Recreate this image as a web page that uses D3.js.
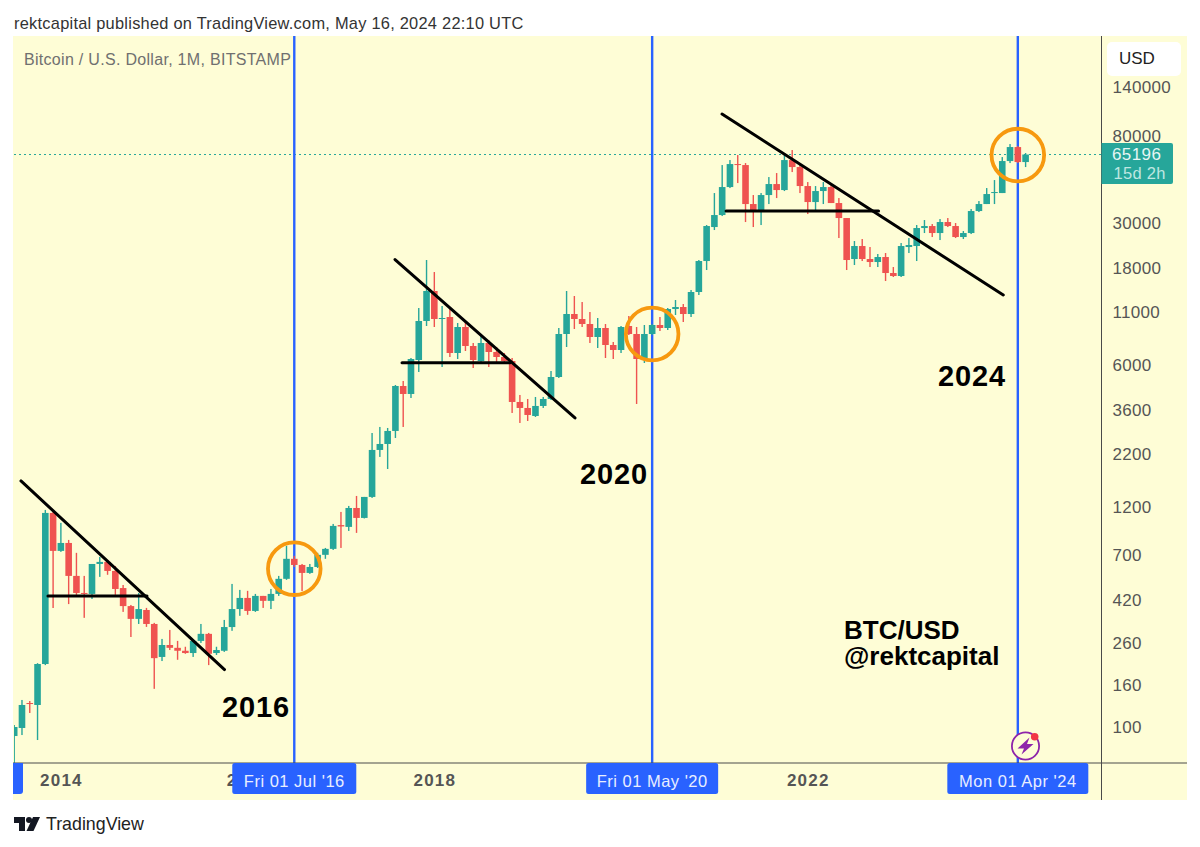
<!DOCTYPE html>
<html lang="en">
<head>
<meta charset="utf-8">
<title>BTC/USD monthly halving chart</title>
<script src="https://cdnjs.cloudflare.com/ajax/libs/d3/7.8.5/d3.min.js"></script>
<style>
  html, body { margin: 0; padding: 0; background: #fff; }
  svg { display: block; }
  text { font-family: "Liberation Sans", Arial, sans-serif; }
</style>
</head>
<body>
<svg id="chart" width="1200" height="847"></svg>
<script>
// monthly candles from Jul 2013, index 0 = Jul 2013
const opens = [
  90.3, 98.9, 131.2, 128.3, 204, 1128,
  734, 803, 553, 456, 451, 633, 648, 585, 482, 393, 340, 376,
  321, 221, 253, 245, 237, 231, 265, 287, 231, 237, 310, 380,
  431, 372, 441, 417, 451, 535, 671, 626, 572, 612, 702, 751,
  983, 963, 1193, 1066, 1352, 2301, 2462, 2853, 4746, 4336, 6370, 9905,
  13908, 10131, 10363, 6895, 9254, 7464, 6298, 7722, 6974, 6590, 6298, 3961,
  3701, 3380, 3786, 4097, 5255, 8549, 10720, 10131, 9573, 8264, 9150, 7549,
  7134, 9359, 8549, 6370, 8549, 9466, 9150, 11344, 11604, 10720, 13752, 19529,
  28692, 32865, 45115, 58524, 57868, 37219, 34777, 41210, 46671, 43610, 61236, 56572,
  45629, 38072, 43120, 45115, 37643, 31767, 19976, 23142, 19976, 19309, 20433, 17049,
  16481, 22881, 23142, 28368, 29018, 26807, 30362, 29018, 25622, 26807, 34386, 37219,
  42153, 42153, 60551, 70939, 59868
];
const highs = [
  102.3, 135.8, 134.2, 206, 1167, 1141,
  1008, 831, 718, 553, 633, 686, 662, 619, 499, 398, 456, 385,
  325, 271, 300, 265, 248, 268, 321, 290, 248, 336, 505, 472,
  467, 451, 441, 477, 553, 777, 694, 633, 633, 718, 759, 996,
  1141, 1221, 1367, 1352, 2788, 2985, 2951, 4800, 5023, 6516, 11473, 19752,
  17243, 11736, 11604, 9682, 9905, 7722, 8358, 7988, 7380, 6895, 6516, 4287,
  4097, 4191, 4191, 5624, 9150, 13908, 13143, 12279, 10966, 10246, 9573, 7810,
  9359, 10481, 9254, 9466, 9573, 10363, 11473, 12561, 12004, 14067, 19752, 29349,
  42153, 57868, 61236, 64800, 59191, 41210, 42153, 50520, 52860, 64800, 68600, 58524,
  47740, 45629, 47740, 47200, 39833, 31767, 24490, 25048, 22881, 21138, 21379, 18247,
  23940, 25333, 29349, 31056, 29682, 31410, 31767, 30020, 27423, 35172, 38507, 44606,
  48835, 63349, 73387, 71750, 66282
];
const lows = [
  61, 91.3, 117.2, 86.3, 201.5, 384.6,
  726, 402, 446, 344, 426, 547, 560, 446, 368, 277, 321, 310.5,
  154, 211, 239, 214, 229, 221, 259, 201.5, 226, 234, 297, 352,
  356, 368, 385, 380, 441, 529, 612, 466, 566, 605, 671, 742,
  759, 920, 900, 1060, 1337, 2126, 1855, 2635, 2985, 4144, 5561, 9359,
  9254, 5885, 6590, 6442, 7053, 5819, 6157, 5885, 6088, 6088, 3497, 3123,
  3194, 3342, 3701, 4050, 5196, 7380, 9047, 9254, 7722, 7297, 6516, 6442,
  6895, 8453, 3872, 6157, 8453, 8844, 8945, 10600, 9793, 10363, 13293, 17638,
  27735, 32493, 44600, 47200, 30362, 28692, 29349, 37219, 39833, 43118, 53460, 42153,
  33238, 34386, 37219, 37643, 25333, 17638, 18665, 19529, 18247, 18247, 15574, 16295,
  16295, 21379, 19529, 26807, 25622, 24767, 28692, 25333, 25048, 26505, 34000, 37219,
  37219, 42153, 59191, 59191, 56572
];
const closes = [
  100, 128.3, 129.7, 204, 1128, 734,
  803, 553, 456, 451, 633, 648, 585, 477, 393, 340, 380, 321,
  218, 253, 245, 237, 231, 265, 287, 229, 239, 310, 380, 431,
  372, 441, 417, 451, 535, 671, 626, 572, 612, 702, 751, 974,
  968, 1193, 1066, 1352, 2301, 2462, 2853, 4746, 4336, 6442, 9905, 13908,
  10131, 10246, 6895, 9254, 7464, 6370, 7722, 6974, 6590, 6298, 3961, 3701,
  3419, 3786, 4097, 5255, 8549, 10720, 10131, 9573, 8264, 9150, 7549, 7134,
  9254, 8549, 6442, 8549, 9466, 9150, 11344, 11604, 10720, 13752, 19529, 29018,
  32865, 45115, 58524, 57868, 37219, 34777, 41210, 46671, 43610, 61236, 56572, 45629,
  38072, 43120, 45115, 37643, 31767, 19752, 23142, 19976, 19309, 20433, 17049, 16481,
  23142, 23405, 28368, 29018, 26807, 30362, 29018, 25622, 26807, 34386, 37219, 41678,
  42633, 60551, 70939, 59868, 65196
];

const priceTicks = [100, 160, 260, 420, 700, 1200, 2200, 3600, 6000, 11000, 18000, 30000, 80000, 140000];
const yearTicks = [[6, "2014"], [30, "2016"], [54, "2018"], [102, "2022"]];

// halving months: index and crosshair label
const halvingMonths = [36, 82, 129];
const halvingLabels = ["Fri 01 Jul '16", "Fri 01 May '20", "Mon 01 Apr '24"];
const labelWidths = [124, 132, 141];
const lastPrice = 65196;

// drawn trendlines, [month index, price] pairs
const fallingLines = [
  [[0.87, 1620], [27.03, 191.5]],
  [[48.95, 19860], [72.08, 3304]],
  [[90.98, 103100], [127.13, 13293]]
];
const flatLines = [
  [[4.34, 441], [17.07, 441]],
  [[49.85, 6179], [63.73, 6179]],
  [[91.5, 34386], [111.1, 34386]]
];
const circlePrices = [600, 8549, 64800];

const bigLabels = [
  { text: "2016", x: 222, y: 717, size: 29 },
  { text: "2020", x: 580, y: 484, size: 29 },
  { text: "2024", x: 938, y: 386, size: 29 },
  { text: "BTC/USD", x: 844, y: 639, size: 26 },
  { text: "@rektcapital", x: 844, y: 665, size: 26 }
];

const up = "#26a69a", down = "#ef5350", blue = "#2962ff", orange = "#f7990f", bg = "#fefdd6";
const pane = { left: 14, right: 1101.5, top: 36, bottom: 763, outer: 1187, low: 800 };

const x = d3.scaleLinear().domain([0, 130]).range([14.2, 1025.6]);
const y = d3.scaleLog().domain([100, 140000]).range([727, 87]);
const bodyW = 6.6;

const svg = d3.select("#chart");

svg.append("rect").attr("x", 13).attr("y", pane.top)
  .attr("width", pane.outer - 13).attr("height", pane.low - pane.top).attr("fill", bg);

svg.append("clipPath").attr("id", "paneClip").append("rect")
  .attr("x", pane.left).attr("y", pane.top)
  .attr("width", pane.right - pane.left).attr("height", pane.bottom - pane.top);

const plot = svg.append("g").attr("clip-path", "url(#paneClip)");

// last price dotted line
plot.append("line")
  .attr("x1", pane.left).attr("x2", pane.right)
  .attr("y1", y(lastPrice)).attr("y2", y(lastPrice))
  .attr("stroke", up).attr("stroke-width", 1).attr("stroke-dasharray", "2 3");

// halving verticals
plot.selectAll(".halving").data(halvingMonths).enter().append("line")
  .attr("class", "halving")
  .attr("x1", d => x(d)).attr("x2", d => x(d))
  .attr("y1", pane.top).attr("y2", pane.bottom)
  .attr("stroke", blue).attr("stroke-width", 2.4);

// candles
const candles = plot.selectAll(".candle").data(opens.map((o, i) => i)).enter().append("g")
  .attr("class", "candle")
  .attr("fill", i => closes[i] >= opens[i] ? up : down);
candles.append("rect")
  .attr("x", i => x(i) - 0.7).attr("width", 1.4)
  .attr("y", i => y(highs[i]))
  .attr("height", i => y(lows[i]) - y(highs[i]));
candles.append("rect")
  .attr("x", i => x(i) - bodyW / 2).attr("width", bodyW)
  .attr("y", i => y(Math.max(opens[i], closes[i])))
  .attr("height", i => Math.max(1, Math.abs(y(opens[i]) - y(closes[i]))));

// trendlines
plot.selectAll(".trend").data(fallingLines.concat(flatLines)).enter().append("line")
  .attr("class", "trend")
  .attr("x1", d => x(d[0][0])).attr("y1", d => y(d[0][1]))
  .attr("x2", d => x(d[1][0])).attr("y2", d => y(d[1][1]))
  .attr("stroke", "#000").attr("stroke-width", 3).attr("stroke-linecap", "round");

// circles round the halving candles
plot.selectAll(".ring").data(halvingMonths).enter().append("circle")
  .attr("class", "ring")
  .attr("cx", d => x(d))
  .attr("cy", (d, i) => y(circlePrices[i]))
  .attr("r", 26.3)
  .attr("fill", "none").attr("stroke", orange).attr("stroke-width", 3.8);

// big hand written labels
svg.selectAll(".big").data(bigLabels).enter().append("text")
  .attr("class", "big")
  .attr("x", d => d.x).attr("y", d => d.y)
  .attr("font-size", d => d.size).attr("font-weight", 700).attr("fill", "#000")
  .attr("letter-spacing", d => d.size > 27 ? 0.9 : 0)
  .text(d => d.text);

// frame lines
svg.append("line").attr("x1", 13).attr("x2", pane.outer)
  .attr("y1", pane.bottom).attr("y2", pane.bottom)
  .attr("stroke", "#4a4a4a").attr("stroke-width", 1);
svg.append("line").attr("x1", pane.right).attr("x2", pane.right)
  .attr("y1", pane.top).attr("y2", pane.low)
  .attr("stroke", "#4a4a4a").attr("stroke-width", 1);

// price axis
const yAxis = d3.axisRight(y).tickValues(priceTicks).tickFormat(d3.format("d"))
  .tickSize(0).tickPadding(11);
const yG = svg.append("g").attr("transform", `translate(${pane.right},0)`).call(yAxis);
yG.select(".domain").remove();
yG.selectAll("text").attr("font-size", 17).attr("letter-spacing", 0.3)
  .attr("fill", "#555").style("font-family", '"Liberation Sans", Arial, sans-serif');

// time axis
const xAxis = d3.axisBottom(x).tickValues(yearTicks.map(d => d[0]))
  .tickFormat(d => yearTicks.find(t => t[0] === d)[1]).tickSize(0).tickPadding(11);
const xG = svg.append("g").attr("transform", `translate(0,${pane.bottom})`).call(xAxis);
xG.select(".domain").remove();
xG.selectAll("text").attr("font-size", 17).attr("font-weight", 700).attr("letter-spacing", 1.2)
  .attr("fill", "#555").style("font-family", '"Liberation Sans", Arial, sans-serif');

// blue date boxes on the time axis
svg.append("path").attr("d", "M13,763H23V791a3,3 0 0 1 -3,3H13Z").attr("fill", blue);
const boxes = svg.selectAll(".dateBox").data(halvingMonths).enter().append("g")
  .attr("class", "dateBox").attr("transform", d => `translate(${x(d)},${pane.bottom})`);
boxes.append("rect")
  .attr("x", (d, i) => -labelWidths[i] / 2)
  .attr("width", (d, i) => labelWidths[i])
  .attr("height", 31).attr("rx", 2.5)
  .attr("fill", blue);
boxes.append("text").attr("text-anchor", "middle").attr("y", 24)
  .attr("font-size", 16.5).attr("letter-spacing", 0.5).attr("fill", "#e8eeff")
  .text((d, i) => halvingLabels[i]);

// last price tag
svg.append("path")
  .attr("d", `M${pane.right},143H1171a2,2 0 0 1 2,2V182a2,2 0 0 1 -2,2H${pane.right}Z`)
  .attr("fill", up);
svg.append("text").attr("x", 1112).attr("y", 160).attr("font-size", 17).attr("letter-spacing", 0.4)
  .attr("fill", "#e6f5f3").text(lastPrice);
svg.append("text").attr("x", 1113.5).attr("y", 179).attr("font-size", 16.5).attr("letter-spacing", 0.3)
  .attr("fill", "#bfe6e1").text("15d 2h");

// currency button
svg.append("rect").attr("x", 1107).attr("y", 42).attr("width", 74).attr("height", 34).attr("rx", 5)
  .attr("fill", "#fff");
svg.append("text").attr("x", 1119).attr("y", 64).attr("font-size", 17).attr("fill", "#222").text("USD");

// header texts
svg.append("text").attr("x", 14).attr("y", 29).attr("font-size", 16.4).attr("letter-spacing", 0.25)
  .attr("fill", "#333").text("rektcapital published on TradingView.com, May 16, 2024 22:10 UTC");
svg.append("text").attr("x", 24).attr("y", 65).attr("font-size", 16).attr("letter-spacing", 0.3)
  .attr("fill", "#707070").text("Bitcoin / U.S. Dollar, 1M, BITSTAMP");

// alert icon
const icon = svg.append("g").attr("transform", "translate(1025.5,746)");
icon.append("circle").attr("r", 13.6).attr("fill", bg).attr("stroke", "#8e24aa").attr("stroke-width", 1.8);
icon.append("path").attr("d", "M4,-8.5 L-8,2.5 H-1.5 L-4,8.5 L8,-2 H1.5Z").attr("fill", "#8e24aa");
icon.append("circle").attr("cx", 9.2).attr("cy", -9.3).attr("r", 3.8).attr("fill", "#f23645");

// TradingView logo and wordmark
svg.append("path").attr("d", "M14,817H25V831H19V823H14Z").attr("fill", "#131722");
svg.append("circle").attr("cx", 29).attr("cy", 820).attr("r", 3).attr("fill", "#131722");
svg.append("path").attr("d", "M33,817H40L33.5,831H26.5Z").attr("fill", "#131722");
svg.append("text").attr("x", 46).attr("y", 830).attr("font-size", 17.8).attr("fill", "#222").text("TradingView");
</script>
</body>
</html>
